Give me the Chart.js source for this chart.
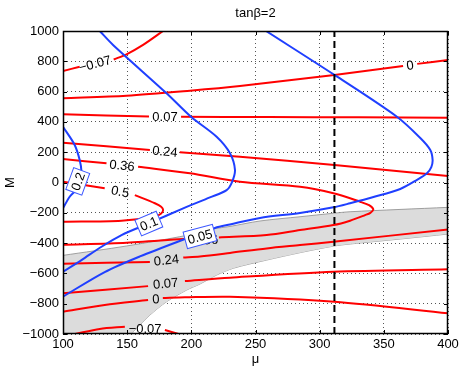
<!DOCTYPE html>
<html>
<head>
<meta charset="utf-8">
<script src="https://cdn.jsdelivr.net/npm/chart.js@4.4.0/dist/chart.umd.min.js"></script>
<style>
  html, body { margin: 0; padding: 0; background: #fff; }
</style>
</head>
<body>
<canvas id="grafico" width="463" height="369"></canvas>
<script>
// datos
const titulo = "tanβ=2";
const xTicks = [100, 150, 200, 250, 300, 350, 400];
const yTicks = [-1000, -800, -600, -400, -200, 0, 200, 400, 600, 800, 1000];

// curvas rojas [mu, M]; null = hueco donde va la etiqueta
const rojoM007Arriba = [[100, 736], [113, 764], null, [139.5, 812], [149.5, 846], [162.4, 908], [178, 1000]];
const rojo0Arriba = [[100, 556], [149.5, 573], [198.9, 606], [237.9, 637], [311.5, 710], [365, 769], null, [376, 783], [400, 809]];
const rojo007Arriba = [[100, 450], [167, 436], null, [192, 434], [260, 432], [330, 430], [400, 428]];
const rojo024Arriba = [[100, 263], [167.7, 215], null, [191, 199], [237.9, 170], [311.5, 116], [400, 43]];
const rojo036 = [[100, 155], [133.9, 127], null, [158.5, 104], [198.9, 61], [237.9, 5], [284.7, -28], [310.7, -71],
  [331.6, -127], [338.5, -150], [341.8, -178], [339.5, -200], [335.4, -215], [323.7, -252], [310.7, -281],
  [284.7, -314], [258.7, -347], [221.5, -363], null, [196.3, -371], [149.5, -397], [100, -411]];
const rojo05 = [[100, 5], [132.5, -38], null, [156, -83], [171.6, -137], [176.5, -160], [178, -182],
  [176.5, -205], [171.6, -226], [145.6, -252], [100, -259]];
const rojo024Abajo = [[100, -536], [167.7, -524], null, [193.7, -495], [206.7, -488], [230.1, -465], [258.7, -435],
  [284.7, -413], [310.7, -391], [400, -310]];
const rojo007Abajo = [[100, -731], [166.3, -684], null, [195, -650], [230.1, -628], [310.7, -589], [400, -573]];
const rojo0Abajo = [[100, -853], [132.5, -809], [166.3, -776], null, [177.8, -763], [195, -758], [230.1, -754],
  [311.5, -787], [400, -863]];
const rojoM007Abajo = [[109.5, -1000], [128.6, -967], [148.2, -952], null, [179.4, -974], [190, -1000]];

// curvas azules
const azul02 = [[100, 368], [109.1, 248], [113, 149], [114.4, 71], [113.5, -5], [109.5, -55], [105.2, -94], [100, -170]];
const azul01 = [[128.6, 1000], [139, 908], [180.7, 589], [199.7, 434], [219.7, 302], [230.1, 193], [234, 83],
  [231.7, 3], [227.5, -50], [214.5, -98], [195, -166], [167.7, -267], [145.6, -347], [130, -424],
  [114.4, -512], [100, -589]];
const azul005 = [[258.2, 1000], [311.5, 710], [360.2, 434], [378.4, 294], [386.2, 215], [388, 149], [387, 102],
  [383.6, 61], [375.8, 17], [362.8, -43], [341.9, -96], [323.7, -137], [310.7, -164], [284.7, -201],
  [253.5, -234], [230.1, -277], [218.4, -300], [195, -373], [159.9, -488], [132.5, -591], [100, -753]];

// zona gris
const grisArriba = [[100, -481], [149.5, -419], [196.3, -349], [216.8, -307], [230.1, -290], [253.5, -254],
  [284.7, -226], [310.7, -203], [323.7, -193], [400, -164]];
const grisAbajo = [[100, -1000], [153.4, -1000], [154.6, -985], [159.9, -941], [167.7, -875], [180.7, -787],
  [196.3, -710], [206.7, -670], [219.7, -611], [232.7, -566], [258.7, -512], [284.7, -463], [310.7, -420],
  [323.7, -406], [362.8, -373], [400, -340]];

// linea vertical
const muCorte = 311.5;

// etiquetas [texto, mu, M, angulo]
const etiquetasRojas = [
  ["\u22120.07", 124.8, 786, -15],
  ["0", 370.5, 776, -7],
  ["0.07", 179.5, 434, 0],
  ["0.24", 179.4, 207, 5],
  ["0.36", 146, 114, 6],
  ["0.5", 144.6, -58, 11],
  ["0.36", 211, -378, -4],
  ["0.24", 180.5, -510, -6],
  ["0.07", 180, -665, -6],
  ["0", 172.3, -767, -3],
  ["\u22120.07", 164, -962, 0],
];
const etiquetasAzules = [
  ["0.2", 111.5, 7, -70],
  ["0.1", 166.9, -271, -23],
  ["0.05", 206.7, -356, -15],
];

const ROJO = "#ff0000";
const AZUL = "#1f3fff";
const FUENTE = '"Liberation Sans", Arial, sans-serif';

function aPuntos(pares) {
  let ultimoX = 0;
  return pares.map((p) => {
    if (!p) return { x: ultimoX, y: null };
    ultimoX = p[0];
    return { x: p[0], y: p[1] };
  });
}

function curva(pares, color) {
  return {
    data: aPuntos(pares),
    showLine: true,
    borderColor: color,
    borderWidth: 2,
    pointRadius: 0,
    tension: 0.3,
    fill: false,
  };
}

function signo(v) {
  return v < 0 ? "\u2212" + Math.abs(v) : String(v);
}

function etiqueta(ctx, px, py, texto, ang, conCaja) {
  ctx.save();
  ctx.translate(px, py);
  ctx.rotate((ang * Math.PI) / 180);
  ctx.font = "13px " + FUENTE;
  ctx.textAlign = "center";
  ctx.textBaseline = "middle";
  if (conCaja) {
    const w = ctx.measureText(texto).width + 5;
    const h = 17;
    ctx.fillStyle = "#fff";
    ctx.fillRect(-w / 2, -h / 2, w, h);
    ctx.strokeStyle = "#3d58ff";
    ctx.lineWidth = 1;
    ctx.strokeRect(-w / 2, -h / 2, w, h);
  }
  ctx.fillStyle = "#000";
  ctx.fillText(texto, 0, 1);
  ctx.restore();
}

const marco = {
  id: "marco",
  beforeDraw(chart) {
    const ctx = chart.ctx;
    ctx.save();
    ctx.fillStyle = "#fff";
    ctx.fillRect(0, 0, chart.width, chart.height);
    ctx.restore();
  },
  afterDatasetsDraw(chart) {
    const ctx = chart.ctx;
    const sx = chart.scales.x;
    const sy = chart.scales.y;
    etiquetasRojas.forEach((e) => {
      etiqueta(ctx, sx.getPixelForValue(e[1]), sy.getPixelForValue(e[2]), e[0], e[3], false);
    });
    etiquetasAzules.forEach((e) => {
      etiqueta(ctx, sx.getPixelForValue(e[1]), sy.getPixelForValue(e[2]), e[0], e[3], true);
    });
  },
  afterDraw(chart) {
    const ctx = chart.ctx;
    const a = chart.chartArea;
    const sx = chart.scales.x;
    const sy = chart.scales.y;
    ctx.save();
    ctx.strokeStyle = "#000";
    ctx.lineWidth = 1.5;
    ctx.strokeRect(a.left + 0.5, a.top + 0.5, a.right - a.left - 1, a.bottom - a.top - 1);
    // ticks hacia adentro
    ctx.lineWidth = 1;
    ctx.beginPath();
    xTicks.forEach((t) => {
      const x = Math.round(sx.getPixelForValue(t)) + 0.5;
      ctx.moveTo(x, a.bottom);
      ctx.lineTo(x, a.bottom - 4);
      ctx.moveTo(x, a.top);
      ctx.lineTo(x, a.top + 4);
    });
    yTicks.forEach((t) => {
      const y = Math.round(sy.getPixelForValue(t)) + 0.5;
      ctx.moveTo(a.left, y);
      ctx.lineTo(a.left + 4, y);
      ctx.moveTo(a.right, y);
      ctx.lineTo(a.right - 4, y);
    });
    ctx.stroke();

    ctx.fillStyle = "#000";
    ctx.font = "13px " + FUENTE;
    ctx.textAlign = "center";
    ctx.textBaseline = "middle";
    ctx.fillText(titulo, (a.left + a.right) / 2, 13);
    ctx.fillText("\u03bc", (a.left + a.right) / 2, 359);
    ctx.translate(10, (a.top + a.bottom) / 2);
    ctx.rotate(-Math.PI / 2);
    ctx.fillText("M", 0, 0);
    ctx.restore();
  },
};

const vertical = {
  data: [{ x: muCorte, y: -1000 }, { x: muCorte, y: 1000 }],
  showLine: true,
  borderColor: "#000",
  borderWidth: 2,
  borderDash: [7, 4],
  pointRadius: 0,
  fill: false,
};

const zonaArriba = {
  data: aPuntos(grisArriba),
  showLine: true,
  borderColor: "#8c8c8c",
  borderWidth: 0.8,
  backgroundColor: "#dcdcdc",
  pointRadius: 0,
  tension: 0.3,
  fill: "+1",
};
const zonaAbajo = {
  data: aPuntos(grisAbajo),
  showLine: true,
  borderColor: "#8c8c8c",
  borderWidth: 0.8,
  pointRadius: 0,
  tension: 0.3,
  fill: false,
};

const fuenteTicks = { family: FUENTE, size: 13 };

new Chart(document.getElementById("grafico"), {
  type: "scatter",
  data: {
    datasets: [
      vertical,
      curva(azul02, AZUL),
      curva(azul01, AZUL),
      curva(azul005, AZUL),
      curva(rojoM007Arriba, ROJO),
      curva(rojo0Arriba, ROJO),
      curva(rojo007Arriba, ROJO),
      curva(rojo024Arriba, ROJO),
      curva(rojo036, ROJO),
      curva(rojo05, ROJO),
      curva(rojo024Abajo, ROJO),
      curva(rojo007Abajo, ROJO),
      curva(rojo0Abajo, ROJO),
      curva(rojoM007Abajo, ROJO),
      zonaArriba,
      zonaAbajo,
    ],
  },
  options: {
    responsive: false,
    animation: false,
    devicePixelRatio: 1,
    layout: { padding: { left: 0, right: 15, top: 31, bottom: 0 } },
    plugins: {
      legend: { display: false },
      tooltip: { enabled: false },
      title: { display: false },
    },
    scales: {
      x: {
        type: "linear",
        min: 100,
        max: 400,
        afterBuildTicks: (s) => {
          s.ticks = xTicks.map((v) => ({ value: v }));
        },
        afterFit: (s) => {
          s.height = 35;
        },
        ticks: { color: "#000", font: fuenteTicks, padding: 3, maxRotation: 0, autoSkip: false, callback: (v) => signo(v) },
        grid: { color: "#555", drawTicks: false, lineWidth: 1 },
        border: { display: false, dash: [1, 3] },
      },
      y: {
        type: "linear",
        min: -1000,
        max: 1000,
        afterBuildTicks: (s) => {
          s.ticks = yTicks.map((v) => ({ value: v }));
        },
        afterFit: (s) => {
          s.width = 63;
        },
        ticks: { color: "#000", font: fuenteTicks, padding: 4, autoSkip: false, callback: (v) => signo(v) },
        grid: { color: "#555", drawTicks: false, lineWidth: 1 },
        border: { display: false, dash: [1, 3] },
      },
    },
  },
  plugins: [marco],
});
</script>
</body>
</html>
